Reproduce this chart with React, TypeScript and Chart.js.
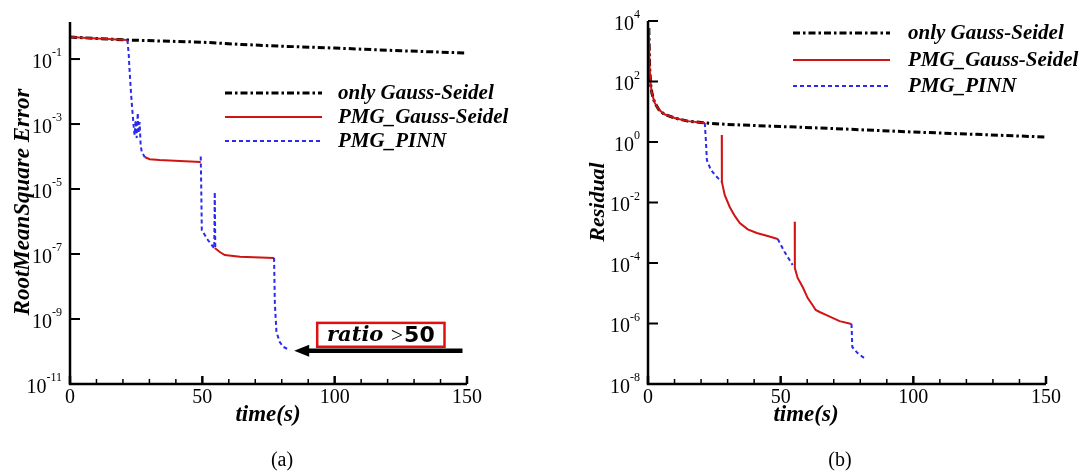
import { useEffect, useRef } from "react";
import { Chart, registerables } from "chart.js";

Chart.register(...registerables);

// ---------- Panel (a): RootMeanSquare Error vs time ----------
const rmseGsTime = [0, 10, 21.6, 35, 50, 65, 79, 100, 125, 150];
const rmseGsValue = [0.475, 0.43, 0.385, 0.358, 0.33, 0.28, 0.25, 0.218, 0.18, 0.153];

const rmsePmgGsTime = [0, 10, 21.6, 24, 28.2, 30.1, 33.9, 41.5, 49.4, 52, 54.7, 56.6, 58.5, 64.2, 77.1];
const rmsePmgGsValue = [0.475, 0.43, 0.385, null, 9.7e-5, 8.3e-5, 7.8e-5, 7.3e-5, 6.8e-5, null, 1.53e-7, 1.15e-7, 9.3e-8, 8.3e-8, 7.6e-8];

const rmsePinnTime = [
  21.7, 22.2, 22.5, 22.9, 23.3, 23.7, 24.1, 24.4, 24.8, 25.2, 25.6, 25.9, 26.3, 26.7, 27.1, 28.2,
  40,
  49.4, 49.6, 49.8, 52.1, 54.5, 54.7, 54.9,
  70,
  77.1, 77.4, 78, 79.2, 80.5, 83.1,
];
const rmsePinnValue = [
  0.385, 0.133, 0.046, 0.0138, 0.0048, 0.0019, 7.6e-4, 4.6e-4, 1.3e-3, 3.7e-4, 2.2e-3, 5.2e-4, 1.15e-3, 2.2e-4, 1.4e-4, 9.7e-5,
  null,
  1.0e-4, 9.3e-6, 5.5e-7, 2.7e-7, 1.5e-7, 8.1e-6, 1.5e-7,
  null,
  7.6e-8, 3e-9, 4e-10, 2e-10, 1.4e-10, 1.1e-10,
];

// ---------- Panel (b): Residual vs time ----------
const resGsTime = [0.3, 0.6, 1, 1.5, 2.5, 4, 6, 10, 15, 21.5, 30, 50, 65, 100, 150];
const resGsValue = [5900, 300, 80, 40, 20, 12, 8.4, 6.2, 4.9, 4.25, 3.8, 3.25, 2.9, 2.14, 1.46];

const resPmgGsTime = [
  0.3, 0.6, 1, 1.5, 2.5, 4, 6, 10, 15, 21.5,
  25,
  27.8, 27.85, 28.9, 30.8, 32.7, 34.6, 37.6, 41, 45.1, 48.9,
  52,
  55.3, 55.35, 56.4, 58.3, 60.2, 62, 63.2, 64.7, 67.3, 72.2, 76.7,
];
const resPmgGsValue = [
  5900, 300, 80, 40, 20, 12, 8.4, 6.2, 4.9, 4.25,
  null,
  1.7, 0.048, 0.0178, 7.1e-3, 3.6e-3, 2.1e-3, 1.3e-3, 9.8e-4, 7.8e-4, 6.2e-4,
  null,
  2.3e-3, 6.8e-5, 3.2e-5, 1.6e-5, 6.9e-6, 4.1e-6, 2.8e-6, 2.4e-6, 1.9e-6, 1.2e-6, 9.6e-7,
];

const resPinnTime = [21.4, 21.8, 22.2, 23.7, 25.6, 27.8, 38, 48.9, 51.5, 54.5, 65, 76.7, 77.0, 79, 82];
const resPinnValue = [4.25, 1.16, 0.25, 0.12, 0.075, 0.048, null, 6.2e-4, 2.3e-4, 8.6e-5, null, 9.6e-7, 1.67e-7, 1.05e-7, 6.7e-8];

// ---------- labels / ticks ----------
const seriesLabels = ["only Gauss-Seidel", "PMG_Gauss-Seidel", "PMG_PINN"];
const xMajorTicks = [0, 50, 100, 150];
const rmseExponents = [-1, -3, -5, -7, -9, -11];
const residualExponents = [4, 2, 0, -2, -4, -6, -8];

// annotation in panel (a), in data coordinates
const ratioText = ["ratio", ">", "50"];
const ratioBox = { t0: 93.4, t1: 141.5, vTop: 7.6e-10, vBottom: 1.4e-10 };
const ratioArrow = { tipT: 84.7, tailT: 148.3, v: 1.05e-10 };

const COLORS = { gs: "#000000", pmg: "#d01414", pinn: "#2a2af0" };
const SERIF = '"Liberation Serif", "Times New Roman", serif';

function pts(t: number[], v: (number | null)[]) {
  return t.map((x, i) => ({ x, y: v[i] }));
}

function makeDatasets(gs: any[], pmg: any[], pinn: any[]) {
  return [
    {
      label: seriesLabels[0], data: gs, borderColor: COLORS.gs, borderWidth: 3,
      borderDash: [7, 3, 2.5, 3], pointRadius: 0, order: 3, spanGaps: false,
    },
    {
      label: seriesLabels[1], data: pmg, borderColor: COLORS.pmg, borderWidth: 2,
      borderDash: [], pointRadius: 0, order: 2, spanGaps: false,
    },
    {
      label: seriesLabels[2], data: pinn, borderColor: COLORS.pinn, borderWidth: 2,
      borderDash: [4, 3], pointRadius: 0, order: 1, spanGaps: false,
    },
  ];
}

type PanelCfg = {
  yExps: number[];
  yTitle: string;
  yTitleX: number;
  yTitleY: number;
  yTitleSize: number;
  xTitleX: number;
  caption: string;
  captionX: number;
  legendX0: number;
  legendX1: number;
  legendTextX: number;
  legendYs: number[];
  annotate: boolean;
};

function makePlugin(cfg: PanelCfg) {
  return {
    id: "paperDecor",
    afterDraw(chart: any) {
      const { ctx, chartArea } = chart;
      const { left, right, top, bottom } = chartArea;
      const xs = chart.scales.x;
      const ys = chart.scales.y;
      ctx.save();
      ctx.setLineDash([]);
      ctx.strokeStyle = "#000";
      ctx.fillStyle = "#000";
      // axes
      ctx.lineWidth = 2.5;
      ctx.beginPath();
      ctx.moveTo(left, top);
      ctx.lineTo(left, bottom);
      ctx.lineTo(right, bottom);
      ctx.stroke();
      // y ticks + labels
      ctx.lineWidth = 2;
      for (const e of cfg.yExps) {
        const py = ys.getPixelForValue(Math.pow(10, e));
        ctx.beginPath();
        ctx.moveTo(left, py);
        ctx.lineTo(left + 10, py);
        ctx.stroke();
        const exp = String(e);
        ctx.font = `12px ${SERIF}`;
        const ew = ctx.measureText(exp).width;
        ctx.font = `20px ${SERIF}`;
        const bw = ctx.measureText("10").width;
        const xr = left - 8;
        ctx.textAlign = "left";
        ctx.textBaseline = "alphabetic";
        ctx.fillText("10", xr - ew - bw, py + 8.5);
        ctx.font = `12px ${SERIF}`;
        ctx.fillText(exp, xr - ew, py - 3);
      }
      // x ticks + labels
      for (let t = 0; t <= 150; t += 10) {
        const px = xs.getPixelForValue(t);
        const len = t % 50 === 0 ? 8 : 5;
        ctx.lineWidth = t % 50 === 0 ? 2.5 : 1.5;
        ctx.beginPath();
        ctx.moveTo(px, bottom);
        ctx.lineTo(px, bottom - len);
        ctx.stroke();
      }
      ctx.font = `20px ${SERIF}`;
      ctx.textAlign = "center";
      ctx.textBaseline = "alphabetic";
      for (const t of xMajorTicks) {
        ctx.fillText(String(t), xs.getPixelForValue(t), bottom + 19);
      }
      // x title
      ctx.font = `italic bold 23px ${SERIF}`;
      ctx.fillText("time(s)", cfg.xTitleX, 421);
      // y title
      ctx.save();
      ctx.translate(cfg.yTitleX, cfg.yTitleY);
      ctx.rotate(-Math.PI / 2);
      ctx.font = `italic bold ${cfg.yTitleSize}px ${SERIF}`;
      ctx.textAlign = "center";
      ctx.textBaseline = "alphabetic";
      ctx.fillText(cfg.yTitle, 0, 0);
      ctx.restore();
      // caption
      ctx.font = `20px ${SERIF}`;
      ctx.textAlign = "center";
      ctx.fillText(cfg.caption, cfg.captionX, 466);
      // legend
      chart.data.datasets.forEach((ds: any, i: number) => {
        const ly = cfg.legendYs[i];
        ctx.strokeStyle = ds.borderColor;
        ctx.lineWidth = ds.borderWidth;
        ctx.setLineDash(ds.borderDash || []);
        ctx.beginPath();
        ctx.moveTo(cfg.legendX0, ly);
        ctx.lineTo(cfg.legendX1, ly);
        ctx.stroke();
        ctx.setLineDash([]);
        ctx.fillStyle = "#000";
        ctx.font = `italic bold 21px ${SERIF}`;
        ctx.textAlign = "left";
        ctx.textBaseline = "middle";
        ctx.fillText(ds.label, cfg.legendTextX, ly + 1);
      });
      // annotation
      if (cfg.annotate) {
        const bx0 = xs.getPixelForValue(ratioBox.t0);
        const bx1 = xs.getPixelForValue(ratioBox.t1);
        const by0 = ys.getPixelForValue(ratioBox.vTop);
        const by1 = ys.getPixelForValue(ratioBox.vBottom);
        ctx.fillStyle = "#fff";
        ctx.fillRect(bx0, by0, bx1 - bx0, by1 - by0);
        ctx.strokeStyle = "#e01010";
        ctx.lineWidth = 2.5;
        ctx.strokeRect(bx0, by0, bx1 - bx0, by1 - by0);
        const cy = (by0 + by1) / 2;
        ctx.fillStyle = "#000";
        ctx.textBaseline = "middle";
        ctx.textAlign = "left";
        ctx.font = 'italic bold 21px "DejaVu Serif", serif';
        const w0 = ctx.measureText(ratioText[0] + " ").width;
        ctx.font = `22px ${SERIF}`;
        const w1 = ctx.measureText(ratioText[1]).width;
        ctx.font = 'bold 22px "DejaVu Sans", sans-serif';
        const w2 = ctx.measureText(ratioText[2]).width;
        let tx = (bx0 + bx1) / 2 - (w0 + w1 + w2 + 1) / 2;
        ctx.font = 'italic bold 21px "DejaVu Serif", serif';
        ctx.fillText(ratioText[0], tx, cy + 1);
        tx += w0;
        ctx.font = `22px ${SERIF}`;
        ctx.fillText(ratioText[1], tx, cy + 1);
        tx += w1 + 1;
        ctx.font = 'bold 22px "DejaVu Sans", sans-serif';
        ctx.fillText(ratioText[2], tx, cy + 1);
        // arrow
        const ax0 = xs.getPixelForValue(ratioArrow.tipT);
        const ax1 = xs.getPixelForValue(ratioArrow.tailT);
        const ay = ys.getPixelForValue(ratioArrow.v);
        ctx.strokeStyle = "#000";
        ctx.lineWidth = 4.5;
        ctx.beginPath();
        ctx.moveTo(ax0 + 12, ay);
        ctx.lineTo(ax1, ay);
        ctx.stroke();
        ctx.beginPath();
        ctx.moveTo(ax0, ay);
        ctx.lineTo(ax0 + 15, ay - 6);
        ctx.lineTo(ax0 + 15, ay + 6);
        ctx.closePath();
        ctx.fill();
      }
      ctx.restore();
    },
  };
}

function makeConfig(datasets: any[], yMin: number, yMax: number, padding: any, cfg: PanelCfg) {
  return {
    type: "line" as const,
    data: { datasets },
    options: {
      animation: false as const,
      responsive: false,
      devicePixelRatio: 1,
      events: [],
      layout: { padding },
      plugins: { legend: { display: false }, tooltip: { enabled: false }, title: { display: false } },
      elements: { line: { tension: 0 } },
      scales: {
        x: { type: "linear" as const, min: 0, max: 150, display: false },
        y: { type: "logarithmic" as const, min: yMin, max: yMax, display: false },
      },
    },
    plugins: [makePlugin(cfg)],
  };
}

export default function App() {
  const leftRef = useRef<HTMLCanvasElement | null>(null);
  const rightRef = useRef<HTMLCanvasElement | null>(null);

  useEffect(() => {
    const leftCfg: PanelCfg = {
      yExps: rmseExponents,
      yTitle: "RootMeanSquare Error",
      yTitleX: 29,
      yTitleY: 202,
      yTitleSize: 23,
      xTitleX: 268,
      caption: "(a)",
      captionX: 282,
      legendX0: 225,
      legendX1: 322,
      legendTextX: 338,
      legendYs: [93, 117, 141],
      annotate: true,
    };
    const rightCfg: PanelCfg = {
      yExps: residualExponents,
      yTitle: "Residual",
      yTitleX: 60,
      yTitleY: 202,
      yTitleSize: 22,
      xTitleX: 262,
      caption: "(b)",
      captionX: 296,
      legendX0: 249,
      legendX1: 346,
      legendTextX: 364,
      legendYs: [33, 60, 86],
      annotate: false,
    };
    const leftChart = new Chart(
      leftRef.current as HTMLCanvasElement,
      makeConfig(
        makeDatasets(pts(rmseGsTime, rmseGsValue), pts(rmsePmgGsTime, rmsePmgGsValue), pts(rmsePinnTime, rmsePinnValue)),
        1e-11,
        Math.pow(10, 0.14),
        { left: 70, right: 77, top: 22, bottom: 90 },
        leftCfg
      ) as any
    );
    const rightChart = new Chart(
      rightRef.current as HTMLCanvasElement,
      makeConfig(
        makeDatasets(pts(resGsTime, resGsValue), pts(resPmgGsTime, resPmgGsValue), pts(resPinnTime, resPinnValue)),
        1e-8,
        1e4,
        { left: 104, right: 42, top: 21, bottom: 90 },
        rightCfg
      ) as any
    );
    return () => {
      leftChart.destroy();
      rightChart.destroy();
    };
  }, []);

  return (
    <div style={{ position: "absolute", left: 0, top: 0, width: 1088, height: 474, background: "#fff", overflow: "hidden" }}>
      <canvas ref={leftRef} width={544} height={474} style={{ position: "absolute", left: 0, top: 0, width: 544, height: 474 }} />
      <canvas ref={rightRef} width={544} height={474} style={{ position: "absolute", left: 544, top: 0, width: 544, height: 474 }} />
    </div>
  );
}
